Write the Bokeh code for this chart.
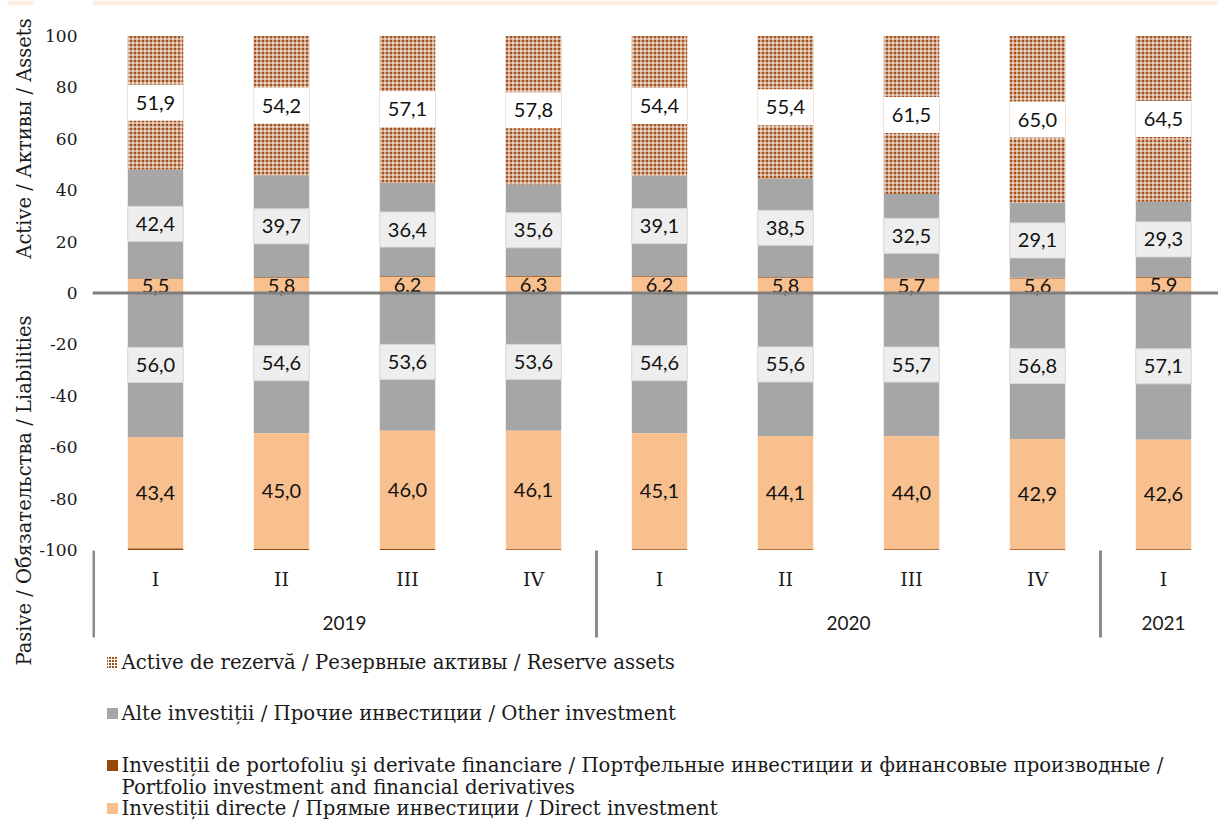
import math
import numpy as np
from bokeh.plotting import figure
from bokeh.layouts import row
from bokeh.models import Span, FixedTicker, Range1d
from bokeh.embed import file_html
from bokeh.resources import INLINE
from bokeh.core.properties import value

# ---------------- data ----------------
years = ["2019", "2019", "2019", "2019", "2020", "2020", "2020", "2020", "2021"]
quarters = ["I", "II", "III", "IV", "I", "II", "III", "IV", "I"]

# Assets (% of total)
a_direct = [5.5, 5.8, 6.2, 6.3, 6.2, 5.8, 5.7, 5.6, 5.9]
a_portfolio = [0.2, 0.3, 0.3, 0.3, 0.3, 0.3, 0.3, 0.3, 0.3]
a_other = [42.4, 39.7, 36.4, 35.6, 39.1, 38.5, 32.5, 29.1, 29.3]
a_reserve = [51.9, 54.2, 57.1, 57.8, 54.4, 55.4, 61.5, 65.0, 64.5]

# Liabilities (% of total, drawn below zero)
l_other = [56.0, 54.6, 53.6, 53.6, 54.6, 55.6, 55.7, 56.8, 57.1]
l_direct = [43.4, 45.0, 46.0, 46.1, 45.1, 44.1, 44.0, 42.9, 42.6]
l_portfolio = [0.6, 0.4, 0.4, 0.3, 0.3, 0.3, 0.3, 0.3, 0.3]

y_ticks = [-100, -80, -60, -40, -20, 0, 20, 40, 60, 80, 100]

series_names = [
    "Active de rezervă / Резервные активы / Reserve assets",
    "Alte investiții / Прочие инвестиции / Other investment",
    "Investiții de portofoliu şi derivate financiare / Портфельные инвестиции и финансовые производные /\nPortfolio investment and financial derivatives",
    "Investiții directe / Прямые инвестиции / Direct investment",
]
title_assets = "Active / Активы / Assets"
title_liab = "Pasive / Обязательства / Liabilities"

# ---------------- styles ----------------
C_DIRECT = "#f9c08f"
C_PORT = "#974706"
C_OTHER = "#a6a6a6"
C_RES = "#a3501a"
C_STRIP = "#fdeee3"
SERIF = "DejaVu Serif"
SANS = "Lato"

W, H = 1218, 821
TW = 34            # width of the title strip figure
LEFT = 92          # page x of the plot frame's left edge
PX_PER_Y = 2.57
PX_PER_X = 126.0
ZERO_PX = 292.5

y_end = ZERO_PX / PX_PER_Y
y_start = y_end - H / PX_PER_Y
x_start = -0.5
x_end = x_start + (W - LEFT) / PX_PER_X


def ypx(px):
    """page pixel row -> data y"""
    return (ZERO_PX - px) / PX_PER_Y


def xpx(px):
    """page pixel column -> data x"""
    return x_start + (px - LEFT) / PX_PER_X


yr = Range1d(y_start, y_end)

# ---------- left strip with the two vertical titles ----------
t = figure(width=TW, height=H, output_backend="svg", toolbar_location=None,
           x_range=Range1d(0, TW), y_range=yr)
t.min_border = 0
t.min_border_left = t.min_border_right = t.min_border_top = t.min_border_bottom = 0
t.outline_line_color = None
t.axis.visible = False
t.grid.visible = False
t.quad(left=[7], right=[TW], top=[y_end], bottom=[ypx(4.5)], fill_color=C_STRIP, line_color=None)
t.text(x=[23.5, 23.5], y=[ypx(138), ypx(490)], text=[title_assets, title_liab], angle=math.pi / 2,
       text_align="center", text_baseline="middle", text_font=value(SERIF),
       text_font_size="19.5px", text_color="#1a1a1a")

# ---------- main chart ----------
p = figure(width=W - TW, height=H, output_backend="svg", toolbar_location=None,
           x_range=Range1d(x_start, x_end), y_range=yr)
p.min_border_left = LEFT - TW
p.min_border_right = 0
p.min_border_top = 0
p.min_border_bottom = 0
p.outline_line_color = None
p.background_fill_color = "white"
p.border_fill_color = "white"
p.xgrid.visible = False
p.ygrid.visible = False
p.xaxis.visible = False

ya = p.yaxis[0]
ya.ticker = FixedTicker(ticks=y_ticks)
ya.major_label_overrides = {v: str(v) for v in y_ticks}
ya.axis_line_color = None
ya.major_tick_line_color = None
ya.minor_tick_line_color = None
ya.major_tick_out = 0
ya.major_tick_in = 0
ya.major_label_standoff = 15
ya.major_label_text_font = SERIF
ya.major_label_text_font_size = "17px"
ya.major_label_text_color = "#1a1a1a"

p.quad(left=[x_start], right=[x_end], top=[y_end], bottom=[ypx(4.5)], fill_color=C_STRIP,
       line_color=None)

n = len(quarters)
xs = np.arange(n, dtype=float)
ad, ap, ao, ar = map(np.array, (a_direct, a_portfolio, a_other, a_reserve))
lo, ld, lp = map(np.array, (l_other, l_direct, l_portfolio))

BW = 0.44
HATCH = dict(hatch_pattern="+", hatch_color="white", hatch_scale=4, hatch_weight=1)
# assets stack
b0 = np.zeros(n)
b1 = b0 + ad
b2 = b1 + ap
b3 = b2 + ao
b4 = b3 + ar
p.vbar(x=xs, bottom=b0, top=b1, width=BW, fill_color=C_DIRECT, line_color=None)
p.vbar(x=xs, bottom=b1, top=b2, width=BW, fill_color=C_PORT, line_color=None)
p.vbar(x=xs, bottom=b2, top=b3, width=BW, fill_color=C_OTHER, line_color=None)
p.vbar(x=xs, bottom=b3, top=b4, width=BW, fill_color=C_RES, line_color=None, **HATCH)
# liabilities stack (downwards)
c1 = -lo
c2 = c1 - ld
c3 = c2 - lp
p.vbar(x=xs, top=b0, bottom=c1, width=BW, fill_color=C_OTHER, line_color=None)
p.vbar(x=xs, top=c1, bottom=c2, width=BW, fill_color=C_DIRECT, line_color=None)
p.vbar(x=xs, top=c2, bottom=c3, width=BW, fill_color=C_PORT, line_color=None)


def fmt(v):
    return f"{v:.1f}".replace(".", ",")

# label boxes
res_y = (b3 + b4) / 2
oth_y = (b2 + b3) / 2
loth_y = c1 / 2
p.rect(x=xs, y=res_y, width=BW, height=36, height_units="screen",
       fill_color="white", line_color=None)
p.rect(x=xs, y=oth_y, width=BW, height=35, height_units="screen",
       fill_color="#eeeeee", line_color="#d9d9d9", line_width=1)
p.rect(x=xs, y=loth_y, width=BW, height=35, height_units="screen",
       fill_color="#eeeeee", line_color="#d9d9d9", line_width=1)

zero = Span(location=0, dimension="width", line_color="#7f7f7f", line_width=3)
p.add_layout(zero)

lab_x = np.concatenate([xs] * 5)
lab_y = np.concatenate([res_y, oth_y, (b0 + b1) / 2, loth_y, (c1 + c2) / 2])
lab_t = ([fmt(v) for v in a_reserve] + [fmt(v) for v in a_other] + [fmt(v) for v in a_direct]
         + [fmt(v) for v in l_other] + [fmt(v) for v in l_direct])
p.text(x=lab_x, y=lab_y, text=lab_t, text_align="center", text_baseline="middle",
       text_font=value(SANS), text_font_size="20px", text_color="#111111")

# category axis (quarters, years, separators)
p.text(x=xs, y=[ypx(578)] * n, text=quarters, text_align="center", text_baseline="middle",
       text_font=value(SERIF), text_font_size="19px", text_color="#1a1a1a")
uniq_years = list(dict.fromkeys(years))
yr_centers = [float(np.mean([i for i in range(n) if years[i] == y])) for y in uniq_years]
p.text(x=yr_centers, y=[ypx(622)] * len(uniq_years), text=uniq_years, text_align="center",
       text_baseline="middle", text_font=value(SANS), text_font_size="19px", text_color="#1a1a1a")
sep_x = [-0.5 + 1.0 / PX_PER_X] + [i - 0.5 for i in range(1, n) if years[i] != years[i - 1]]
p.segment(x0=sep_x, x1=sep_x, y0=[ypx(550)] * len(sep_x), y1=[ypx(637)] * len(sep_x),
          line_color="#8c8c8c", line_width=3)

# legend
rows = [662, 713, 765, 808]
sq_x = xpx(112)
tx_x = xpx(121)
p.rect(x=[sq_x], y=[ypx(rows[0])], width=11, height=11, width_units="screen", height_units="screen",
       fill_color=C_RES, line_color=None, hatch_pattern="+", hatch_color="white", hatch_scale=3,
       hatch_weight=1)
p.rect(x=[sq_x] * 3, y=[ypx(r) for r in rows[1:]], width=11, height=11, width_units="screen",
       height_units="screen", fill_color=[C_OTHER, C_PORT, C_DIRECT], line_color=None)
lt, ly = [], []
for name, r in zip(series_names, rows):
    for k, line in enumerate(name.split("\n")):
        lt.append(line)
        ly.append(ypx(r + 22 * k))
p.text(x=[tx_x] * len(lt), y=ly, text=lt, text_align="left", text_baseline="middle",
       text_font=value(SERIF), text_font_size="19.7px", text_color="#1a1a1a")

layout = row(t, p, spacing=0)
open("out.html", "w").write(file_html(layout, INLINE))
